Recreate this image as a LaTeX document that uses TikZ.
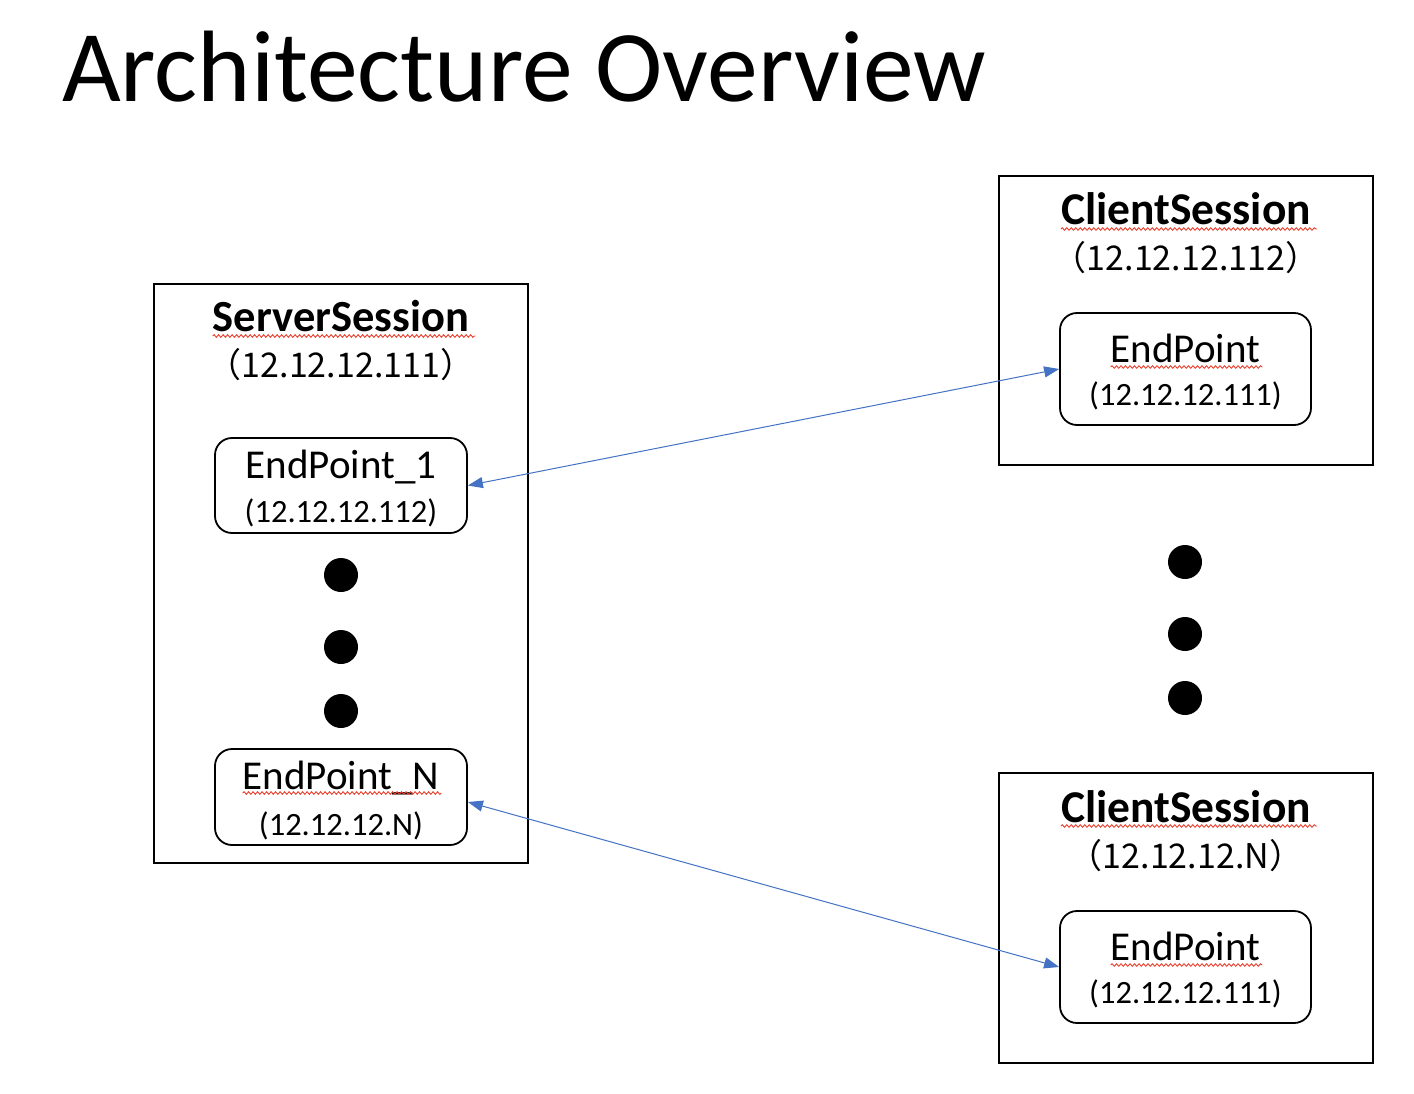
\documentclass[tikz,border=0pt]{standalone}
\usepackage{fontspec}
\setmainfont{Carlito}
\newfontfamily\cjk{Noto Sans CJK SC}
\usetikzlibrary{arrows.meta,decorations.pathmorphing}
\definecolor{arrowblue}{HTML}{4472C4}
\definecolor{squigred}{HTML}{E8412F}
\begin{document}
\begin{tikzpicture}[x=1pt,y=-1pt,
  sessbox/.style={draw, line width=2pt, minimum width=374pt, inner sep=0pt},
  epbox/.style={draw, line width=1.8pt, rounded corners=17pt, minimum width=252pt, inner sep=0pt},
  stitle/.style={anchor=base, inner sep=0pt, font=\fontsize{44.5}{50}\selectfont\bfseries},
  sip/.style={anchor=base, inner sep=0pt, font=\fontsize{34}{40}\selectfont\cjk},
  eptitle/.style={anchor=base, inner sep=0pt, font=\fontsize{41}{48}\selectfont},
  epip/.style={anchor=base, inner sep=0pt, font=\fontsize{32.5}{38}\selectfont},
  dot/.style={circle, fill=black, minimum size=34pt, inner sep=0pt},
  squig/.style={draw=squigred, line width=0.9pt, decorate, decoration={snake, segment length=4.5pt, amplitude=1.3pt}},
  conn/.style={{Triangle[length=15pt,width=11pt]}-{Triangle[length=15pt,width=11pt]}, draw=arrowblue, line width=1pt}
]
\useasboundingbox[fill=white] (0,0) rectangle (1414,1094);

% title
\node[anchor=base west, inner sep=0pt, font=\fontsize{101.5}{120}\selectfont] (title) at (62,102) {Architecture Overview};

% server session
\node[sessbox, minimum height=579pt] (ss) at (341,573.5) {};
\node[stitle] (sst) at (341,331) {ServerSession};
\node[sip] (ssip) at (341,377) {（12.12.12.111）};
\node[epbox, minimum height=95pt] (ep1) at (341,485.5) {};
\node[eptitle] (ep1t) at (341,478) {EndPoint\_1};
\node[epip] (ep1ip) at (341,522) {(12.12.12.112)};
\node[dot] (sd1) at (341,575) {};
\node[dot] (sd2) at (341,647) {};
\node[dot] (sd3) at (341,711) {};
\node[epbox, minimum height=96pt] (epn) at (341,797) {};
\node[eptitle] (epnt) at (341,789) {EndPoint\_N};
\node[epip] (epnip) at (341,835) {(12.12.12.N)};

% client session 1
\node[sessbox, minimum height=289pt] (cs1) at (1186,320.5) {};
\node[stitle, font=\fontsize{45.5}{50}\selectfont\bfseries] (cs1t) at (1186,225) {ClientSession};
\node[sip] (cs1ip) at (1186,270) {（12.12.12.112）};
\node[epbox, minimum height=112pt, minimum width=251pt] (cep1) at (1185.5,369) {};
\node[eptitle] (cep1t) at (1185.5,362) {EndPoint};
\node[epip] (cep1ip) at (1185.5,405) {(12.12.12.111)};

% dots right
\node[dot] (cd1) at (1185,562) {};
\node[dot] (cd2) at (1185,634) {};
\node[dot] (cd3) at (1185,698) {};

% client session 2
\node[sessbox, minimum height=290pt] (cs2) at (1186,918) {};
\node[stitle, font=\fontsize{45.5}{50}\selectfont\bfseries] (cs2t) at (1186,822) {ClientSession};
\node[sip] (cs2ip) at (1186,868) {（12.12.12.N）};
\node[epbox, minimum height=112pt, minimum width=251pt] (cep2) at (1185.5,967) {};
\node[eptitle] (cep2t) at (1185.5,960) {EndPoint};
\node[epip] (cep2ip) at (1185.5,1003) {(12.12.12.111)};

% spell-check squiggles
\draw[squig] ([yshift=-5pt]sst.base west) -- ([xshift=6pt,yshift=-5pt]sst.base east);
\draw[squig] ([yshift=-4pt]cs1t.base west) -- ([xshift=6pt,yshift=-4pt]cs1t.base east);
\draw[squig] ([yshift=-4pt]cs2t.base west) -- ([xshift=6pt,yshift=-4pt]cs2t.base east);
\draw[squig] ([yshift=-5pt]cep1t.base west) -- ([xshift=2pt,yshift=-5pt]cep1t.base east);
\draw[squig] ([yshift=-5pt]cep2t.base west) -- ([xshift=2pt,yshift=-5pt]cep2t.base east);
\draw[squig] ([yshift=-4pt]epnt.base west) -- ([xshift=2pt,yshift=-4pt]epnt.base east);

% connectors
\draw[conn] (ep1.east) -- (cep1.west);
\draw[conn] ([yshift=-5pt]epn.east) -- (cep2.west);
\end{tikzpicture}
\end{document}
